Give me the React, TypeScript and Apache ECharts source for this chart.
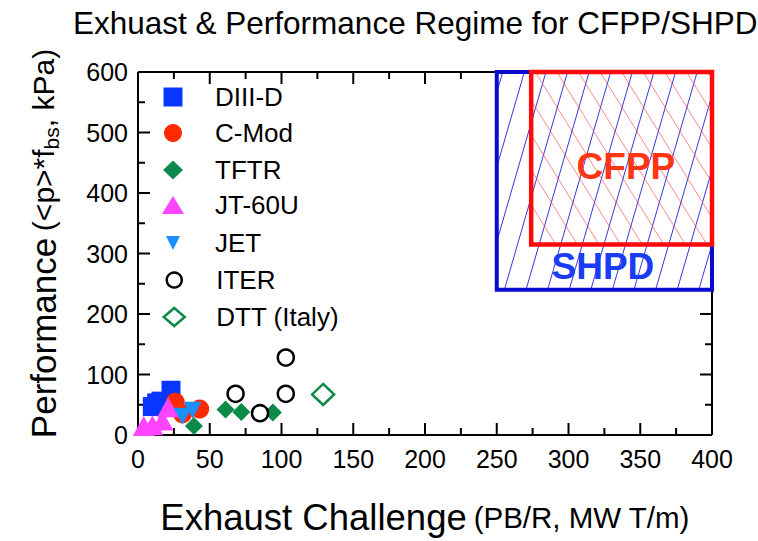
import { useEffect, useRef } from 'react';
import * as echarts from 'echarts';

// ---------- data ----------
const seriesNames = ['DIII-D', 'C-Mod', 'TFTR', 'JT-60U', 'JET', 'ITER', 'DTT (Italy)'];
const diiidData = [[10, 47], [13, 53], [16, 56], [23, 74]];
const cmodData = [[26, 54], [43, 43], [31, 35]];
const tftrData = [[39, 15], [61, 42], [72, 38], [94, 37]];
const jt60uData = [[4, 15], [10, 16], [17, 24], [21, 46]];
const jetData = [[31, 31], [38, 41]];
const iterData = [[68, 68], [85, 36], [103, 68], [103, 128]];
const dttData = [[129, 67]];

const xTickLabels = [0, 50, 100, 150, 200, 250, 300, 350, 400];
const xMinorTicks = [25, 75, 125, 175, 225, 275, 325, 375];
const yTickLabels = [0, 100, 200, 300, 400, 500, 600];
const yMinorTicks = [50, 150, 250, 350, 450, 550];

const regionNames = ['SHPD', 'CFPP'];
const regionX = [[250, 400], [274, 400]];
const regionY = [[240, 600], [315, 600]];
const regionLabelAt = [[324, 279], [340, 444]];

const titleText = 'Exhuast & Performance Regime for CFPP/SHPD';

// ---------- styles ----------
const FONT = '"Liberation Sans", Arial, Helvetica, sans-serif';
const seriesStyles = [
  { symbol: 'rect', size: 19, color: '#0836ff', rotate: 0, hollow: false },
  { symbol: 'circle', size: 19, color: '#ff2a00', rotate: 0, hollow: false },
  { symbol: 'diamond', size: [18, 18], color: '#0b8a4a', rotate: 0, hollow: false },
  { symbol: 'triangle', size: [22, 20], color: '#ff44ff', rotate: 0, hollow: false },
  { symbol: 'triangle', size: [18, 17], color: '#1a90ff', rotate: 180, hollow: false },
  { symbol: 'circle', size: 16, color: '#000000', rotate: 0, hollow: true },
  { symbol: 'diamond', size: [22, 21], color: '#0b8a4a', rotate: 0, hollow: true },
];
const seriesData = [diiidData, cmodData, tftrData, jt60uData, jetData, iterData, dttData];

const legendLayout = [
  { icon: 'rect', w: 19, h: 19, cy: 97 },
  { icon: 'circle', w: 18, h: 18, cy: 133 },
  { icon: 'diamond', w: 20, h: 19, cy: 170 },
  { icon: 'triangle', w: 22, h: 18, cy: 205 },
  { icon: 'path://M0,0L2,0L1,2Z', w: 14, h: 15, cy: 243 },
  { icon: 'circle', w: 15, h: 15, cy: 280 },
  { icon: 'diamond', w: 21, h: 18, cy: 317 },
];
const legendSymbolCx = 173;
const legendTextX = 215;

const regionStyles = [
  { border: '#0a0ad0', borderWidth: 4, hatch: 'rgba(20,20,210,0.85)', slope: -0.29, spacing: 21.6, phase: 6, label: '#1a3cf5' },
  { border: '#ff0a0a', borderWidth: 4.5, hatch: 'rgba(255,60,60,0.6)', slope: 0.62, spacing: 21.6, phase: 3, label: '#ff3514' },
];

const MAJOR_LEN = 12;
const MINOR_LEN = 7;

export default function App() {
  const ref = useRef<HTMLDivElement>(null);
  useEffect(() => {
    document.body.style.margin = '0';
    if (!ref.current) return;
    const chart = echarts.init(ref.current, null, { renderer: 'svg' });

    const xMin = xTickLabels[0];
    const xMax = xTickLabels[xTickLabels.length - 1];
    const xStep = xTickLabels[1] - xTickLabels[0];
    const yMin = yTickLabels[0];
    const yMax = yTickLabels[yTickLabels.length - 1];
    const yStep = yTickLabels[1] - yTickLabels[0];

    const scatterSeries = seriesNames.map((name, i) => {
      const st = seriesStyles[i];
      return {
        type: 'scatter',
        name,
        data: seriesData[i],
        symbol: st.symbol,
        symbolSize: st.size,
        symbolRotate: st.rotate,
        itemStyle: st.hollow
          ? { color: '#ffffff', borderColor: st.color, borderWidth: 2.5, opacity: 1 }
          : { color: st.color, opacity: 1 },
        z: 5 + i,
        emphasis: { disabled: true },
      };
    });

    // frame and inward ticks on all four sides
    const frameSeries = {
      type: 'custom',
      name: 'frame',
      silent: true,
      clip: false,
      z: 2,
      xAxisIndex: 0,
      yAxisIndex: 0,
      encode: { x: 0, y: 1 },
      data: [[xMin, yMin]],
      renderItem: (_params: any, api: any) => {
        const children: any[] = [];
        const ln = (x1: number, y1: number, x2: number, y2: number) =>
          children.push({
            type: 'line',
            shape: { x1, y1, x2, y2 },
            style: { stroke: '#000000', lineWidth: 2, fill: 'none' },
          });
        const p0 = api.coord([xMin, yMin]);
        const p1 = api.coord([xMax, yMax]);
        ln(p0[0], p0[1], p1[0], p0[1]);
        ln(p0[0], p1[1], p1[0], p1[1]);
        ln(p0[0], p0[1], p0[0], p1[1]);
        ln(p1[0], p0[1], p1[0], p1[1]);
        const xt = [
          ...xTickLabels.map((v) => [v, MAJOR_LEN]),
          ...xMinorTicks.map((v) => [v, MINOR_LEN]),
        ];
        xt.forEach(([v, len]) => {
          const b = api.coord([v, yMin]);
          ln(b[0], b[1], b[0], b[1] - len);
          const t = api.coord([v, yMax]);
          ln(t[0], t[1], t[0], t[1] + len);
        });
        const yt = [
          ...yTickLabels.map((v) => [v, MAJOR_LEN]),
          ...yMinorTicks.map((v) => [v, MINOR_LEN]),
        ];
        yt.forEach(([v, len]) => {
          const l = api.coord([xMin, v]);
          ln(l[0], l[1], l[0] + len, l[1]);
          const r = api.coord([xMax, v]);
          ln(r[0], r[1], r[0] - len, r[1]);
        });
        return { type: 'group', children };
      },
    };

    const regionSeries = {
      type: 'custom',
      name: 'regions',
      silent: true,
      clip: false,
      z: 3,
      xAxisIndex: 0,
      yAxisIndex: 0,
      encode: { x: [0, 1], y: [2, 3] },
      data: regionNames.map((_, i) => [regionX[i][0], regionX[i][1], regionY[i][0], regionY[i][1]]),
      renderItem: (params: any, api: any) => {
        const idx = params.dataIndex;
        const st = regionStyles[idx];
        const tl = api.coord([api.value(0), api.value(3)]);
        const br = api.coord([api.value(1), api.value(2)]);
        const L = tl[0], T = tl[1], R = br[0], B = br[1];
        const H = B - T;
        const s = st.slope;
        const children: any[] = [];
        if (idx === 0) {
          children.push({
            type: 'rect',
            shape: { x: L, y: T, width: R - L, height: B - T },
            style: { fill: '#ffffff', stroke: 'none' },
          });
        }
        const cmin = Math.min(L, L - s * H) - st.spacing;
        const cmax = Math.max(R, R - s * H) + st.spacing;
        for (let c = cmin + st.phase; c <= cmax; c += st.spacing) {
          const yl = T + (L - c) / s;
          const yr = T + (R - c) / s;
          const ya = Math.max(T, Math.min(yl, yr));
          const yb = Math.min(B, Math.max(yl, yr));
          if (yb > ya + 0.5) {
            children.push({
              type: 'line',
              shape: { x1: c + s * (ya - T), y1: ya, x2: c + s * (yb - T), y2: yb },
              style: { stroke: st.hatch, lineWidth: 1 },
            });
          }
        }
        children.push({
          type: 'rect',
          shape: { x: L, y: T, width: R - L, height: B - T },
          style: { fill: 'none', stroke: st.border, lineWidth: st.borderWidth },
        });
        const lp = api.coord(regionLabelAt[idx]);
        children.push({
          type: 'text',
          x: lp[0],
          y: lp[1],
          style: {
            text: regionNames[idx],
            fill: st.label,
            font: `bold 37px ${FONT}`,
            align: 'center',
            verticalAlign: 'middle',
          },
        });
        return { type: 'group', children };
      },
    };

    const legends = seriesNames.map((name, i) => {
      const lg = legendLayout[i];
      const st = seriesStyles[i];
      const pad = legendTextX - (legendSymbolCx + lg.w / 2 + 5);
      return {
        show: true,
        selectedMode: false,
        orient: 'vertical',
        left: legendSymbolCx - lg.w / 2,
        top: lg.cy - 15,
        padding: 0,
        itemWidth: lg.w,
        itemHeight: lg.h,
        data: [{ name, icon: lg.icon }],
        itemStyle: st.hollow
          ? { color: '#ffffff', borderColor: st.color, borderWidth: 2.5 }
          : { color: st.color, borderWidth: 0 },
        textStyle: {
          fontFamily: FONT,
          fontSize: 26,
          color: '#000',
          padding: [0, 0, 0, pad],
          lineHeight: 30,
          height: 30,
        },
      };
    });

    const axisCommon = {
      axisLine: { show: false, onZero: false },
      axisTick: { show: false },
      minorTick: { show: false },
      splitLine: { show: false },
      minorSplitLine: { show: false },
    };

    chart.setOption({
      animation: false,
      backgroundColor: '#ffffff',
      textStyle: { fontFamily: FONT },
      title: {
        text: titleText,
        left: 68,
        top: 2,
        textStyle: { fontFamily: FONT, fontSize: 31.5, fontWeight: 'normal', color: '#000' },
      },
      legend: legends,
      grid: { left: 138, right: 46, top: 72, bottom: 103, containLabel: false },
      xAxis: [
        {
          type: 'value',
          position: 'bottom',
          min: xMin,
          max: xMax,
          interval: xStep,
          ...axisCommon,
          axisLabel: {
            show: true,
            fontSize: 25,
            color: '#000',
            fontFamily: FONT,
            margin: 11,
          },
          name: '{a|Exhaust Challenge}  {b|(PB/R, MW T/m)}',
          nameLocation: 'middle',
          nameGap: 64,
          nameTextStyle: {
            color: '#000',
            fontFamily: FONT,
            rich: {
              a: { fontSize: 36.5, fontFamily: FONT, color: '#000' },
              b: { fontSize: 29.5, fontFamily: FONT, color: '#000' },
            },
          },
        },
      ],
      yAxis: [
        {
          type: 'value',
          position: 'left',
          min: yMin,
          max: yMax,
          interval: yStep,
          ...axisCommon,
          axisLabel: {
            show: true,
            fontSize: 25,
            color: '#000',
            fontFamily: FONT,
            margin: 10,
          },
          name: '{a|Performance}  {b|(<p>*f}{s|bs}{b|, kPa)}',
          nameLocation: 'middle',
          nameRotate: 90,
          nameGap: 76,
          nameTextStyle: {
            color: '#000',
            fontFamily: FONT,
            padding: [0, 0, 0, 20],
            rich: {
              a: { fontSize: 35, fontFamily: FONT, color: '#000' },
              b: { fontSize: 30, fontFamily: FONT, color: '#000' },
              s: { fontSize: 21, fontFamily: FONT, color: '#000', padding: [16, 0, 0, 0] },
            },
          },
        },
      ],
      series: [frameSeries, regionSeries, ...scatterSeries],
    });

    return () => {
      chart.dispose();
    };
  }, []);

  return <div ref={ref} style={{ width: 758, height: 541 }} />;
}
